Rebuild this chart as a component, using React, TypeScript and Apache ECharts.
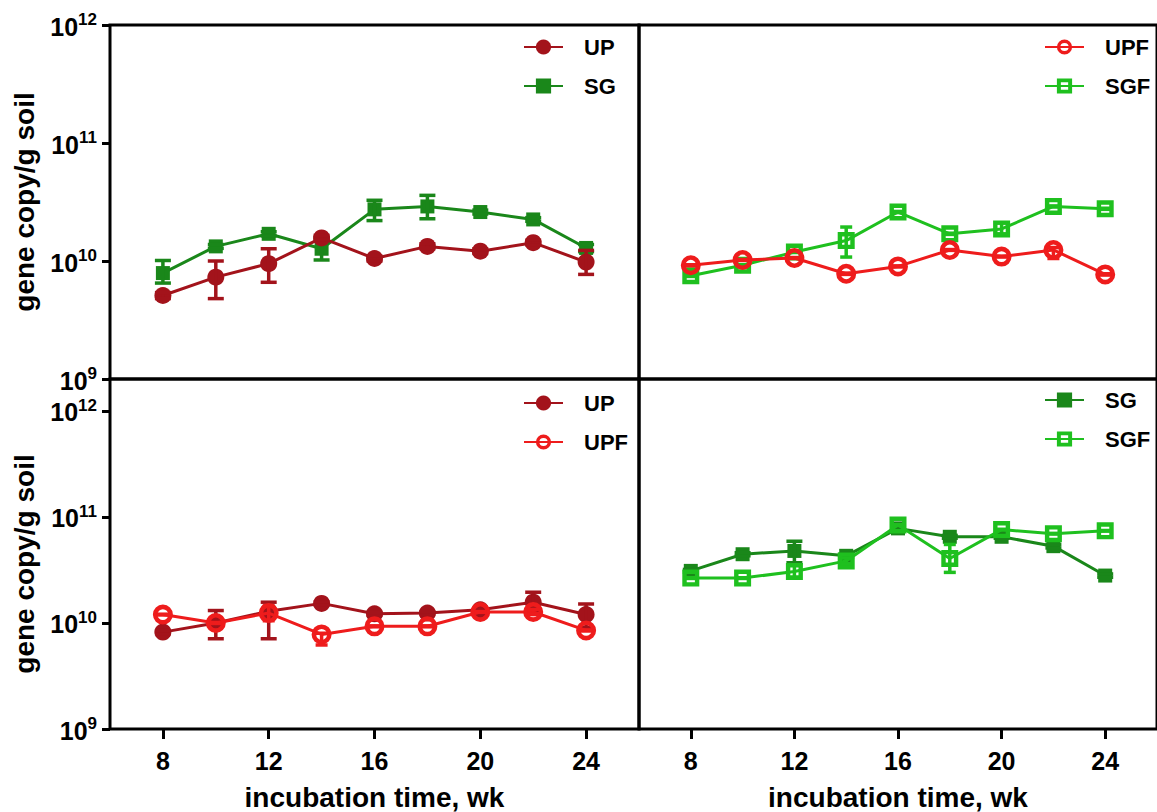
import React, { useEffect, useRef } from 'react';
import * as echarts from 'echarts';

// ---------- data ----------
const WEEKS = [8, 10, 12, 14, 16, 18, 20, 22, 24];
const X_TICKS = [8, 12, 16, 20, 24];
const Y_TITLE = 'gene copy/g soil';
const X_TITLE = 'incubation time, wk';

// top-left panel: UP vs SG
const A_UP = [5.1e9, 7.3e9, 9.5e9, 1.57e10, 1.05e10, 1.33e10, 1.21e10, 1.43e10, 9.8e9];
const A_UP_LO = [4.8e9, 4.8e9, 6.6e9, 1.5e10, 1.0e10, 1.27e10, 1.16e10, 1.37e10, 7.7e9];
const A_UP_HI = [5.4e9, 1.0e10, 1.27e10, 1.65e10, 1.1e10, 1.4e10, 1.27e10, 1.5e10, 1.23e10];
const A_SG = [7.9e9, 1.33e10, 1.7e10, 1.27e10, 2.74e10, 2.9e10, 2.6e10, 2.25e10, 1.29e10];
const A_SG_LO = [6.5e9, 1.28e10, 1.63e10, 1.02e10, 2.2e10, 2.28e10, 2.5e10, 2.17e10, 1.2e10];
const A_SG_HI = [1.01e10, 1.38e10, 1.77e10, 1.57e10, 3.27e10, 3.6e10, 2.7e10, 2.33e10, 1.38e10];

// top-right panel: UPF vs SGF
const B_UPF = [9.2e9, 1.02e10, 1.06e10, 7.8e9, 9.0e9, 1.24e10, 1.09e10, 1.24e10, 7.7e9];
const B_UPF_LO = [9.1e9, 1.01e10, 1.05e10, 7.7e9, 8.9e9, 1.23e10, 1.08e10, 1.05e10, 7.6e9];
const B_UPF_HI = [9.3e9, 1.03e10, 1.07e10, 7.9e9, 9.1e9, 1.25e10, 1.1e10, 1.3e10, 7.8e9];
const B_SGF = [7.5e9, 9.2e9, 1.19e10, 1.49e10, 2.6e10, 1.7e10, 1.87e10, 2.9e10, 2.77e10];
const B_SGF_LO = [7.4e9, 9.1e9, 1.18e10, 1.08e10, 2.57e10, 1.68e10, 1.7e10, 2.87e10, 2.74e10];
const B_SGF_HI = [7.6e9, 9.3e9, 1.2e10, 1.94e10, 2.63e10, 1.72e10, 2.1e10, 2.93e10, 2.8e10];

// bottom-left panel: UP vs UPF
const C_UP = [8.2e9, 1.0e10, 1.29e10, 1.53e10, 1.22e10, 1.24e10, 1.33e10, 1.57e10, 1.2e10];
const C_UP_LO = [7.9e9, 7.1e9, 7.1e9, 1.48e10, 1.18e10, 1.2e10, 1.29e10, 1.3e10, 9.1e9];
const C_UP_HI = [8.5e9, 1.31e10, 1.57e10, 1.58e10, 1.26e10, 1.28e10, 1.37e10, 1.95e10, 1.51e10];
const C_UPF = [1.2e10, 1.0e10, 1.24e10, 7.8e9, 9.3e9, 9.3e9, 1.27e10, 1.27e10, 8.5e9];
const C_UPF_LO = [1.19e10, 9.9e9, 1.05e10, 6.2e9, 9.2e9, 9.2e9, 1.26e10, 1.2e10, 8.4e9];
const C_UPF_HI = [1.21e10, 1.01e10, 1.45e10, 8.0e9, 9.4e9, 9.4e9, 1.28e10, 1.34e10, 8.6e9];

// bottom-right panel: SG vs SGF
const D_SG = [3.1e10, 4.45e10, 4.78e10, 4.3e10, 7.8e10, 6.5e10, 6.5e10, 5.3e10, 2.8e10];
const D_SG_LO = [3.0e10, 4.3e10, 3.7e10, 4.15e10, 7.55e10, 6.3e10, 6.3e10, 5.1e10, 2.7e10];
const D_SG_HI = [3.2e10, 4.6e10, 5.9e10, 4.45e10, 8.05e10, 6.7e10, 6.7e10, 5.5e10, 2.9e10];
const D_SGF = [2.65e10, 2.65e10, 3.06e10, 3.85e10, 8.4e10, 4.06e10, 7.6e10, 6.95e10, 7.4e10];
const D_SGF_LO = [2.63e10, 2.63e10, 2.7e10, 3.6e10, 8.35e10, 3.0e10, 7.55e10, 6.9e10, 7.35e10];
const D_SGF_HI = [2.67e10, 2.67e10, 3.5e10, 4.1e10, 8.45e10, 5.5e10, 7.65e10, 7.0e10, 7.45e10];

// ---------- styling ----------
const FONT = "'Liberation Sans', Arial, Helvetica, sans-serif";
const COLORS: Record<string, string> = {
  UP: '#a3131b',
  SG: '#1a871a',
  UPF: '#ee1c1c',
  SGF: '#1fc01f',
};
type Kind = 'fillCircle' | 'fillSquare' | 'openCircle' | 'openSquare';
const KINDS: Record<string, Kind> = {
  UP: 'fillCircle',
  SG: 'fillSquare',
  UPF: 'openCircle',
  SGF: 'openSquare',
};

// hollow ring symbols (filled annulus, transparent hole)
const RING_CIRCLE =
  'path://M0,-10A10,10 0 1,1 0,10A10,10 0 1,1 0,-10ZM0,-5.4A5.4,5.4 0 1,0 0,5.4A5.4,5.4 0 1,0 0,-5.4Z';
const RING_SQUARE = 'path://M0,0H20V20H0ZM5.2,5.2V14.8H14.8V5.2Z';

function lineSeries(name: string, values: number[], gi: number, z: number) {
  const color = COLORS[name];
  const kind = KINDS[name];
  let symbol = 'circle';
  let size = 17;
  if (kind === 'fillSquare') { symbol = 'rect'; size = 14; }
  if (kind === 'openCircle') { symbol = RING_CIRCLE; size = 20; }
  if (kind === 'openSquare') { symbol = RING_SQUARE; size = 17; }
  return {
    type: 'line',
    name,
    z,
    xAxisIndex: gi,
    yAxisIndex: gi,
    data: WEEKS.map((w, i) => [w, values[i]]),
    symbol,
    symbolSize: size,
    symbolKeepAspect: true,
    showAllSymbol: true,
    lineStyle: { color, width: 3 },
    itemStyle: { color, borderWidth: 0 },
    emphasis: { disabled: true },
    silent: true,
  };
}

function errSeries(name: string, lo: number[], hi: number[], gi: number, z: number) {
  const color = COLORS[name];
  const kind = KINDS[name];
  const open = kind === 'openCircle' || kind === 'openSquare';
  const half = open ? 6 : 8;
  return {
    type: 'custom',
    name: name + '-err',
    z,
    xAxisIndex: gi,
    yAxisIndex: gi,
    silent: true,
    data: WEEKS.map((w, i) => [w, lo[i], hi[i]]),
    encode: { x: 0, y: [1, 2] },
    renderItem: (_params: any, api: any) => {
      const x = api.value(0);
      const pLo = api.coord([x, api.value(1)]);
      const pHi = api.coord([x, api.value(2)]);
      const style = { stroke: color, lineWidth: 3.5, fill: 'none' };
      return {
        type: 'group',
        children: [
          { type: 'line', shape: { x1: pLo[0], y1: pLo[1], x2: pHi[0], y2: pHi[1] }, style },
          { type: 'line', shape: { x1: pLo[0] - half, y1: pLo[1], x2: pLo[0] + half, y2: pLo[1] }, style },
          { type: 'line', shape: { x1: pHi[0] - half, y1: pHi[1], x2: pHi[0] + half, y2: pHi[1] }, style },
        ],
      };
    },
  };
}

const yLabelFormatter = (v: number) => {
  const e = Math.round(Math.log10(v));
  if (Math.abs(v / Math.pow(10, e) - 1) > 1e-6) return '';
  return `{b|10}{s|${e}}`;
};

function yAxis(gi: number, max: number, withLabels: boolean, namePad: number[] | null) {
  return {
    type: 'log',
    logBase: 10,
    gridIndex: gi,
    min: 1e9,
    max,
    axisLine: { show: false },
    splitLine: { show: false },
    minorTick: { show: false },
    axisTick: withLabels
      ? { show: true, inside: false, length: 8, lineStyle: { color: '#000', width: 3 } }
      : { show: false },
    axisLabel: withLabels
      ? {
          show: true,
          margin: 13,
          showMaxLabel: max === 1e12,
          formatter: yLabelFormatter,
          rich: {
            b: { fontSize: 25, fontWeight: 'bold', fontFamily: FONT, color: '#000', lineHeight: 28, verticalAlign: 'bottom' },
            s: { fontSize: 17, fontWeight: 'bold', fontFamily: FONT, color: '#000', lineHeight: 17, verticalAlign: 'top' },
          },
        }
      : { show: false },
    name: withLabels ? Y_TITLE : '',
    nameLocation: 'middle',
    nameGap: 72,
    nameTextStyle: {
      fontSize: 28,
      fontWeight: 'bold',
      fontFamily: FONT,
      color: '#000',
      padding: namePad || [0, 0, 0, 0],
    },
  };
}

function xAxis(gi: number, bottom: boolean) {
  return {
    type: 'value',
    gridIndex: gi,
    min: 6,
    max: 26,
    axisLine: { show: false },
    splitLine: { show: false },
    axisTick: bottom
      ? { show: true, inside: false, length: 10, customValues: X_TICKS, lineStyle: { color: '#000', width: 3 } }
      : { show: false },
    axisLabel: bottom
      ? {
          show: true,
          customValues: X_TICKS,
          margin: 19,
          fontSize: 25,
          fontWeight: 'bold',
          fontFamily: FONT,
          color: '#000',
        }
      : { show: false },
    name: bottom ? X_TITLE : '',
    nameLocation: 'middle',
    nameGap: 54,
    nameTextStyle: { fontSize: 28, fontWeight: 'bold', fontFamily: FONT, color: '#000' },
  };
}

function legend(names: string[], left: number, top: number) {
  return {
    data: names,
    left,
    top,
    orient: 'vertical',
    padding: 0,
    itemWidth: 39,
    itemHeight: 19,
    itemGap: 17,
    selectedMode: false,
    textStyle: {
      fontSize: 22,
      fontWeight: 'bold',
      fontFamily: FONT,
      color: '#000',
      padding: [0, 0, 0, 16],
    },
  };
}

const gridBase = { show: true, borderColor: '#000', borderWidth: 3, backgroundColor: 'transparent', containLabel: false };

export default function App() {
  const ref = useRef<HTMLDivElement>(null);
  useEffect(() => {
    if (!ref.current) return;
    const chart = echarts.init(ref.current, undefined, { renderer: 'svg' });
    chart.setOption({
      animation: false,
      backgroundColor: '#ffffff',
      grid: [
        { ...gridBase, left: 110, top: 25, width: 529, height: 354 },
        { ...gridBase, left: 639, top: 25, width: 528, height: 354 },
        { ...gridBase, left: 110, top: 379, width: 529, height: 352.5 },
        { ...gridBase, left: 639, top: 379, width: 528, height: 352.5 },
      ],
      xAxis: [xAxis(0, false), xAxis(1, false), xAxis(2, true), xAxis(3, true)],
      yAxis: [
        yAxis(0, 1e12, true, null),
        yAxis(1, 1e12, false, null),
        yAxis(2, 2e12, true, [0, 20, 0, 0]),
        yAxis(3, 2e12, false, null),
      ],
      legend: [
        legend(['UP', 'SG'], 523, 36),
        legend(['UPF', 'SGF'], 1044, 36),
        legend(['UP', 'UPF'], 523, 392),
        legend(['SG', 'SGF'], 1044, 389),
      ],
      series: [
        lineSeries('SG', A_SG, 0, 2),
        errSeries('SG', A_SG_LO, A_SG_HI, 0, 3),
        lineSeries('UP', A_UP, 0, 4),
        errSeries('UP', A_UP_LO, A_UP_HI, 0, 5),

        lineSeries('SGF', B_SGF, 1, 2),
        errSeries('SGF', B_SGF_LO, B_SGF_HI, 1, 3),
        lineSeries('UPF', B_UPF, 1, 4),
        errSeries('UPF', B_UPF_LO, B_UPF_HI, 1, 5),

        lineSeries('UP', C_UP, 2, 2),
        errSeries('UP', C_UP_LO, C_UP_HI, 2, 3),
        lineSeries('UPF', C_UPF, 2, 4),
        errSeries('UPF', C_UPF_LO, C_UPF_HI, 2, 5),

        lineSeries('SG', D_SG, 3, 2),
        errSeries('SG', D_SG_LO, D_SG_HI, 3, 3),
        lineSeries('SGF', D_SGF, 3, 4),
        errSeries('SGF', D_SGF_LO, D_SGF_HI, 3, 5),
      ],
    });
    return () => chart.dispose();
  }, []);
  return (
    <div
      ref={ref}
      style={{ position: 'absolute', left: 0, top: 0, width: 1157, height: 812, overflow: 'hidden' }}
    />
  );
}
